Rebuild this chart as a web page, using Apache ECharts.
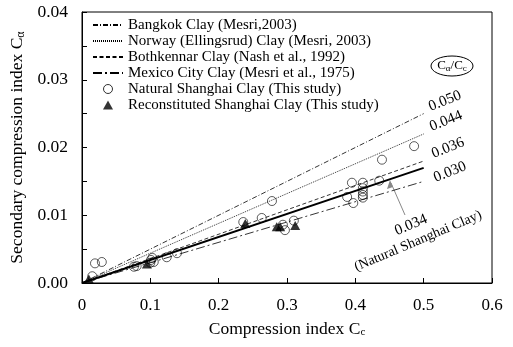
<!DOCTYPE html>
<html>
<head>
<meta charset="utf-8">
<script src="https://cdn.jsdelivr.net/npm/echarts@6/dist/echarts.min.js"></script>
<style>html,body{margin:0;padding:0;background:#fff}#c{width:513px;height:347px}</style>
</head>
<body>
<div id="c"></div>
<script>
// ---- data ----
const xTicks = [0, 0.1, 0.2, 0.3, 0.4, 0.5, 0.6];
const yTicks = [0, 0.01, 0.02, 0.03, 0.04];
const refNames = ['Bangkok Clay (Mesri,2003)', 'Norway (Ellingsrud) Clay (Mesri, 2003)', 'Bothkennar Clay (Nash et al., 1992)', 'Mexico City Clay (Mesri et al., 1975)'];
const refRatios = [0.050, 0.044, 0.036, 0.030];
const refLabels = ['0.050', '0.044', '0.036', '0.030'];
const lineXEnd = 0.5;
const shanghaiRatio = 0.034;
const naturalPts = [
  [0.015,0.0010],[0.019,0.0029],[0.029,0.0031],
  [0.076,0.0024],[0.080,0.0025],
  [0.100,0.0030],[0.101,0.0034],[0.103,0.0037],[0.105,0.0031],
  [0.124,0.0038],[0.139,0.0044],
  [0.236,0.0090],[0.263,0.0096],[0.278,0.0121],
  [0.297,0.0078],[0.294,0.0086],[0.310,0.0092],
  [0.388,0.0127],[0.397,0.0118],[0.395,0.0148],[0.411,0.0148],
  [0.411,0.0140],[0.411,0.0135],[0.411,0.0130],[0.411,0.0126],
  [0.435,0.0151],[0.439,0.0182],[0.486,0.0202]
];
const reconPts = [
  [0.010,0.0006],[0.095,0.0028],[0.239,0.0088],[0.285,0.0083],[0.290,0.0083],[0.312,0.0085]
];
const naturalName = 'Natural Shanghai Clay (This study)';
const reconName = 'Reconstituted Shanghai Clay (This study)';

// ---- chart ----
const FONT = '"Liberation Serif","Times New Roman",serif';
const dashes = [[5,2,1,2],[1,1],[4,2.5],[9,3,2,3]];
const chart = echarts.init(document.getElementById('c'), null, {renderer:'canvas'});
const series = refNames.map((n, i) => ({
  name: n, type: 'line', symbol: 'none', silent: true,
  itemStyle:{color:'#000', opacity:0},
  lineStyle: {color:'#000', width: 0.8, type: dashes[i]},
  data: [[0,0],[lineXEnd, refRatios[i]*lineXEnd]],
  z: 2
}));
series.push({
  name: 'Natural Shanghai line', type:'line', symbol:'none',
  itemStyle:{color:'#000'},
  lineStyle:{color:'#000', width:2}, data:[[0,0],[lineXEnd, shanghaiRatio*lineXEnd]], z:3
});
series.push({
  name: naturalName, type:'scatter', symbol:'circle', symbolSize:9,
  itemStyle:{color:'rgba(255,255,255,0)', borderColor:'#000', borderWidth:0.8},
  data: naturalPts, z:4
});
series.push({
  name: reconName, type:'scatter', symbol:'triangle', symbolSize:[10,9],
  itemStyle:{color:'#000'}, data: reconPts, z:5
});

const legendData = refNames.map(n => ({name:n, itemStyle:{opacity:0}}));
legendData.push({name:naturalName, icon:'circle', itemStyle:{color:'rgba(255,255,255,0)', borderColor:'#000', borderWidth:1}});
legendData.push({name:reconName, icon:'path://M5,0L10,9L0,9Z', itemStyle:{color:'#000'}});

const option = {
  animation:false,
  backgroundColor:'#fff',
  grid:{left:82, right:21, top:12, bottom:64, show:true, borderColor:'#000', borderWidth:1,
        containLabel:false, outerBoundsMode:'none'},
  legend:{
    data: legendData, symbolKeepAspect:true,
    orient:'vertical', left:92, top:17, itemWidth:30, itemHeight:9, itemGap:0,
    textStyle:{fontFamily:FONT, fontSize:15, lineHeight:16, color:'#000'}, padding:0
  },
  xAxis:{
    type:'value', min:0, max:0.6, interval:0.1,
    name:'Compression index C{s|c}', nameLocation:'middle', nameGap:37,
    nameTextStyle:{fontFamily:FONT, fontSize:17.5, color:'#000', rich:{s:{fontFamily:FONT,fontSize:11,color:'#000',padding:[7,0,0,0]}}},
    axisLine:{lineStyle:{color:'#000', width:1}},
    axisTick:{inside:true, length:5, lineStyle:{color:'#000'}},
    axisLabel:{fontFamily:FONT, fontSize:17, color:'#000', margin:14,
      formatter: v => v === 0 ? '0' : v.toFixed(1)},
    splitLine:{show:false}
  },
  yAxis:{
    type:'value', min:0, max:0.04, interval:0.01,
    name:'Secondary compression index C{s|α}', nameLocation:'middle', nameGap:54, nameRotate:90,
    nameTextStyle:{fontFamily:FONT, fontSize:17.5, color:'#000', rich:{s:{fontFamily:FONT,fontSize:12,color:'#000',padding:[7,0,0,0]}}},
    axisLine:{lineStyle:{color:'#000', width:1}},
    axisTick:{inside:true, length:5, lineStyle:{color:'#000'}},
    minorTick:{show:true, splitNumber:2, length:5, lineStyle:{color:'#000'}},
    axisLabel:{fontFamily:FONT, fontSize:17.5, color:'#000', margin:14,
      formatter: v => v.toFixed(2)},
    splitLine:{show:false}
  },
  series: series
};
chart.setOption(option);

// annotations
const lblPos = [[445,101],[446,121],[448,148],[450,172]];
const g = [];
refLabels.forEach((t, i) => {
  g.push({type:'text', x:lblPos[i][0], y:lblPos[i][1], rotation: 22*Math.PI/180,
    style:{text:t, fontFamily:FONT, fontSize:15, fill:'#000', align:'center', verticalAlign:'middle'}});
});
g.push({type:'ellipse', shape:{cx:452, cy:66, rx:21, ry:10}, style:{fill:'none', stroke:'#000', lineWidth:1}});
g.push({type:'text', x:452, y:66, style:{
  rich:{n:{fontFamily:FONT,fontSize:13,fill:'#000'}, s:{fontFamily:FONT,fontSize:9,fill:'#000',padding:[5,0,0,0]}},
  text:'{n|C}{s|α}{n|/C}{s|c}', align:'center', verticalAlign:'middle'}});
g.push({type:'text', x:411, y:225, rotation: 23*Math.PI/180,
  style:{text:String(shanghaiRatio.toFixed(3)), fontFamily:FONT, fontSize:15, fill:'#000', align:'center', verticalAlign:'middle'}});
g.push({type:'text', x:418, y:241, rotation: 23*Math.PI/180,
  style:{text:'(Natural Shanghai Clay)', fontFamily:FONT, fontSize:14, fill:'#000', align:'center', verticalAlign:'middle'}});
g.push({type:'line', shape:{x1:405, y1:215, x2:391, y2:183}, style:{stroke:'#888', lineWidth:1}});
g.push({type:'polygon', shape:{points:[[390,180],[387,189],[393,187]]}, style:{fill:'#888'}});
chart.setOption({graphic:g});
</script>
</body>
</html>
